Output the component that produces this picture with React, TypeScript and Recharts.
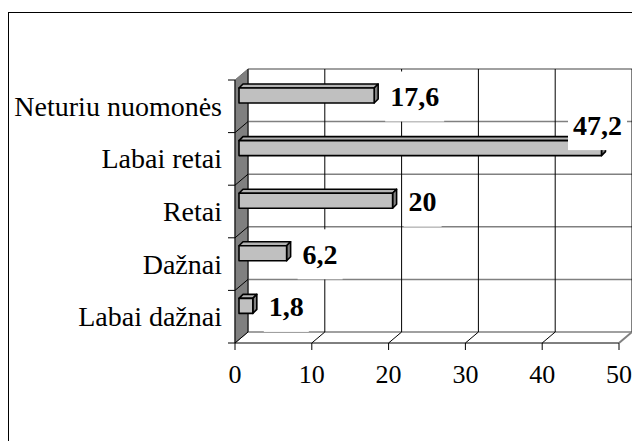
import React from 'react';
import {
  BarChart,
  ComposedChart,
  Bar,
  XAxis,
  YAxis,
  CartesianGrid,
  LabelList
} from 'recharts';

// Data
const CATEGORIES = ['Neturiu nuomonės', 'Labai retai', 'Retai', 'Dažnai', 'Labai dažnai'];
const VALUES = [17.6, 47.2, 20, 6.2, 1.8];
const X_TICKS = [0, 10, 20, 30, 40, 50];

const rows = CATEGORIES.map((name, i) => ({ name, value: VALUES[i] }));
const bandEdges = CATEGORIES.map((_, i) => i).concat(CATEGORIES.length);
const edgeRows = bandEdges.map((e, i) => ({ edge: e, x: X_TICKS[i] ?? 0 }));

// Layout (front plane of the 3D box, and depth offset of the back wall)
const W = 632;
const H = 441;
const PLOT_LEFT = 235;
const PLOT_TOP = 80;
const PLOT_RIGHT = 619;
const PLOT_BOTTOM = 343;
const DEPTH_X = 13;
const DEPTH_Y = 11;
const BAND = (PLOT_BOTTOM - PLOT_TOP) / CATEGORIES.length;

const FONT = "'Times New Roman', 'Liberation Serif', serif";

// bar box offsets
const BAR_SHIFT_X = 4;
const BAR_SHIFT_Y = -11;
const BAR_DEPTH = 4;

const formatValue = (v: number) => String(v).replace('.', ',');

const Box3D = (props: any) => {
  const { x, y, width, height } = props;
  if (width == null || width <= 0) return null;
  const fx = x + BAR_SHIFT_X;
  const fy = y + BAR_SHIFT_Y;
  const d = BAR_DEPTH;
  const stroke = { stroke: '#000', strokeWidth: 1.6, strokeLinejoin: 'round' as const };
  return (
    <g>
      <polygon
        points={`${fx},${fy} ${fx + d},${fy - d} ${fx + width + d},${fy - d} ${fx + width},${fy}`}
        fill="#b4b4b4"
        {...stroke}
      />
      <polygon
        points={`${fx + width},${fy} ${fx + width + d},${fy - d} ${fx + width + d},${fy + height - d} ${fx + width},${fy + height}`}
        fill="#808080"
        {...stroke}
      />
      <rect x={fx} y={fy} width={width} height={height} fill="#c0c0c0" {...stroke} />
    </g>
  );
};

const LABEL_SIZE = 28;
const LABEL_MAX_RIGHT = 622;

const renderLabel = (props: any) => {
  const vb = props.viewBox || props;
  const { x, y, width, height } = vb;
  const text = formatValue(props.value);
  const textW = text.split('').reduce((s, c) => s + (c === ',' ? 0.25 : 0.5), 0) * LABEL_SIZE;
  let left = x + width + 20;
  let cy = y + height / 2 + BAR_SHIFT_Y + 1;
  if (left + textW > LABEL_MAX_RIGHT) {
    left = LABEL_MAX_RIGHT - textW;
    cy -= 24;
  }
  return (
    <g>
      <rect x={left - 5} y={cy - 25} width={textW + 10} height={50} fill="#fff" />
      <text
        x={left}
        y={cy + 9.5}
        fontFamily={FONT}
        fontSize={LABEL_SIZE}
        fontWeight="bold"
        fill="#000"
      >
        {text}
      </text>
    </g>
  );
};

const XTick = (props: any) => {
  const { x, y, payload, index, visibleTicksCount } = props;
  const axisY = y - 7;
  const last = index === visibleTicksCount - 1;
  return (
    <g>
      <line
        x1={x}
        y1={axisY}
        x2={x + DEPTH_X}
        y2={axisY - DEPTH_Y}
        stroke={last ? '#808080' : '#000'}
        strokeWidth={last ? 2 : 1}
      />
      <text x={x} y={axisY + 40} textAnchor="middle" fontFamily={FONT} fontSize={26} fill="#000">
        {payload.value}
      </text>
    </g>
  );
};

const YTick = (props: any) => {
  const { x, y, payload, index, visibleTicksCount } = props;
  const axisX = x + 13;
  const top = y - BAND / 2;
  const bottom = y + BAND / 2;
  return (
    <g>
      <line x1={axisX - 7} y1={top} x2={axisX} y2={top} stroke="#000" />
      {index === visibleTicksCount - 1 && (
        <line x1={axisX - 7} y1={bottom} x2={axisX} y2={bottom} stroke="#000" />
      )}
      {index > 0 && (
        <line x1={axisX} y1={top} x2={axisX + DEPTH_X} y2={top - DEPTH_Y} stroke="#000" />
      )}
      <text x={x} y={y} dy="0.34em" textAnchor="end" fontFamily={FONT} fontSize={28} fill="#000">
        {payload.value}
      </text>
    </g>
  );
};

export default function App() {
  const layer: React.CSSProperties = { position: 'absolute', left: 0, top: 0 };
  return (
    <div
      style={{
        position: 'absolute',
        left: 0,
        top: 0,
        width: W,
        height: H,
        overflow: 'hidden',
        background: '#fff'
      }}
    >
      <div
        style={{
          position: 'absolute',
          left: 8,
          top: 12,
          width: W + 40,
          height: H + 40,
          border: '1px solid #000',
          boxSizing: 'border-box'
        }}
      />
      {/* side wall */}
      <svg style={layer} width={W} height={H}>
        <polygon
          points={`${PLOT_LEFT},${PLOT_TOP} ${PLOT_LEFT + DEPTH_X},${PLOT_TOP - DEPTH_Y} ${PLOT_LEFT + DEPTH_X},${PLOT_BOTTOM - DEPTH_Y} ${PLOT_LEFT},${PLOT_BOTTOM}`}
          fill="#808080"
          stroke="#707070"
        />
      </svg>
      {/* back plane grid */}
      <div style={layer}>
        <ComposedChart
          width={W}
          height={H}
          data={edgeRows}
          margin={{
            top: PLOT_TOP - DEPTH_Y,
            left: PLOT_LEFT + DEPTH_X,
            right: W - PLOT_RIGHT - DEPTH_X,
            bottom: H - PLOT_BOTTOM + DEPTH_Y
          }}
        >
          <XAxis type="number" dataKey="x" domain={[0, 50]} ticks={X_TICKS} allowDataOverflow hide />
          <YAxis
            type="number"
            dataKey="edge"
            domain={[0, CATEGORIES.length]}
            ticks={bandEdges}
            allowDataOverflow
            hide
          />
          <CartesianGrid vertical={false} stroke="#808080" strokeWidth={1.5} />
          <CartesianGrid horizontal={false} stroke="#000" />
        </ComposedChart>
      </div>
      {/* bars and axes */}
      <div style={layer}>
        <BarChart
          width={W}
          height={H}
          data={rows}
          layout="vertical"
          margin={{ top: PLOT_TOP, right: W - PLOT_RIGHT, bottom: 0, left: 0 }}
          barSize={15}
        >
          <XAxis
            type="number"
            domain={[0, 50]}
            ticks={X_TICKS}
            interval={0}
            height={H - PLOT_BOTTOM}
            axisLine={{ stroke: '#000' }}
            tickLine={{ stroke: '#000' }}
            tickSize={7}
            tickMargin={0}
            tick={<XTick />}
          />
          <YAxis
            type="category"
            dataKey="name"
            width={PLOT_LEFT}
            interval={0}
            axisLine={{ stroke: '#000' }}
            tickLine={false}
            tickSize={7}
            tickMargin={6}
            tick={<YTick />}
          />
          <Bar dataKey="value" shape={<Box3D />} isAnimationActive={false}>
            <LabelList dataKey="value" content={renderLabel} />
          </Bar>
        </BarChart>
      </div>
    </div>
  );
}
